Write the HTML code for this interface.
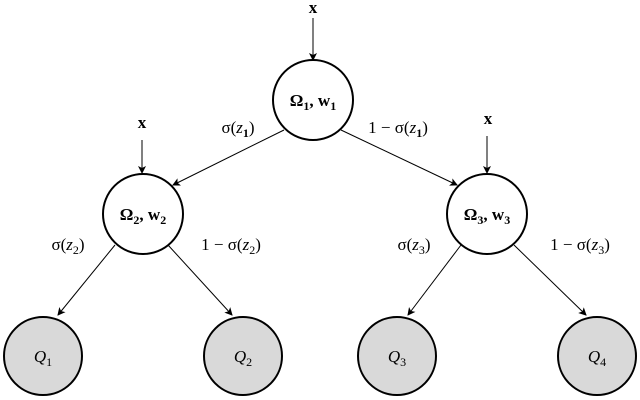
<!DOCTYPE html>
<html><head><style>body{margin:0;background:#fff}svg{display:block}</style></head><body>
<svg width="640" height="400" viewBox="0 0 640 400" xmlns="http://www.w3.org/2000/svg">
<defs><marker id="a" markerWidth="8" markerHeight="8" refX="7" refY="4" orient="auto" markerUnits="userSpaceOnUse"><path d="M0,0 L8,4 L0,8 L2,4 Z" fill="#000"/></marker></defs>
<g stroke="#000" stroke-width="1" fill="none" marker-end="url(#a)">
<line x1="313" y1="18" x2="313" y2="60"/>
<line x1="142" y1="140" x2="142" y2="173"/>
<line x1="487" y1="136" x2="487" y2="173"/>
<line x1="284" y1="130" x2="173" y2="185"/>
<line x1="341" y1="130" x2="457" y2="185"/>
<line x1="115" y1="245" x2="58" y2="315"/>
<line x1="168" y1="245" x2="232" y2="315"/>
<line x1="461" y1="245" x2="408" y2="315"/>
<line x1="514" y1="245" x2="586" y2="315"/>
</g>
<g stroke="#000" stroke-width="2">
<circle cx="313" cy="100" r="40" fill="#fff"/>
<circle cx="143" cy="214" r="40" fill="#fff"/>
<circle cx="487" cy="214" r="40" fill="#fff"/>
<circle cx="43" cy="356" r="39" fill="#d9d9d9"/>
<circle cx="243" cy="356" r="39" fill="#d9d9d9"/>
<circle cx="397" cy="356" r="39" fill="#d9d9d9"/>
<circle cx="597" cy="356" r="39" fill="#d9d9d9"/>
</g>
<g font-family="Liberation Serif, serif" font-size="17" text-anchor="middle">
<text x="313" y="13" font-weight="bold">x</text>
<text x="142" y="128" font-weight="bold">x</text>
<text x="488" y="124" font-weight="bold">x</text>
<text x="313" y="106" font-weight="bold">Ω<tspan font-size="12" dy="4">1</tspan><tspan dy="-4">, w</tspan><tspan font-size="12" dy="4">1</tspan></text>
<text x="143" y="220" font-weight="bold">Ω<tspan font-size="12" dy="4">2</tspan><tspan dy="-4">, w</tspan><tspan font-size="12" dy="4">2</tspan></text>
<text x="487" y="220" font-weight="bold">Ω<tspan font-size="12" dy="4">3</tspan><tspan dy="-4">, w</tspan><tspan font-size="12" dy="4">3</tspan></text>
<text x="238" y="133">σ(<tspan font-style="italic">z</tspan><tspan font-size="12" dy="4" font-weight="bold">1</tspan><tspan dy="-4">)</tspan></text>
<text x="398" y="133">1 − σ(<tspan font-style="italic">z</tspan><tspan font-size="12" dy="4" font-weight="bold">1</tspan><tspan dy="-4">)</tspan></text>
<text x="68" y="250">σ(<tspan font-style="italic">z</tspan><tspan font-size="12" dy="4">2</tspan><tspan dy="-4">)</tspan></text>
<text x="231" y="250">1 − σ(<tspan font-style="italic">z</tspan><tspan font-size="12" dy="4">2</tspan><tspan dy="-4">)</tspan></text>
<text x="414" y="250">σ(<tspan font-style="italic">z</tspan><tspan font-size="12" dy="4">3</tspan><tspan dy="-4">)</tspan></text>
<text x="580" y="250">1 − σ(<tspan font-style="italic">z</tspan><tspan font-size="12" dy="4">3</tspan><tspan dy="-4">)</tspan></text>
<text x="43" y="362" font-style="italic">Q<tspan font-size="12" dy="4" font-style="normal">1</tspan></text>
<text x="243" y="362" font-style="italic">Q<tspan font-size="12" dy="4" font-style="normal">2</tspan></text>
<text x="397" y="362" font-style="italic">Q<tspan font-size="12" dy="4" font-style="normal">3</tspan></text>
<text x="597" y="362" font-style="italic">Q<tspan font-size="12" dy="4" font-style="normal">4</tspan></text>
</g>
</svg>
</body></html>
